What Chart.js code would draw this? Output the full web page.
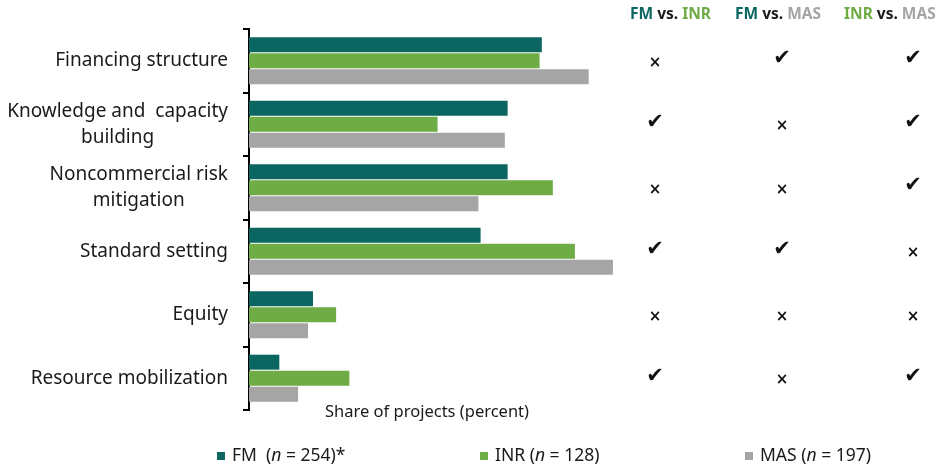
<!DOCTYPE html>
<html>
<head>
<meta charset="utf-8">
<script src="https://cdn.jsdelivr.net/npm/chart.js@4"></script>
<style>
  html, body { margin: 0; padding: 0; background: #fff; }
</style>
</head>
<body>
<canvas id="chart" width="943" height="468"></canvas>
<script>
const categories = [
    ['Financing structure'],
    ['Knowledge and  capacity', 'building'],
    ['Noncommercial risk', 'mitigation'],
    ['Standard setting'],
    ['Equity'],
    ['Resource mobilization']
];
const fmValues  = [53.1, 46.9, 46.9, 42.0, 11.6, 5.5];
const inrValues = [52.7, 34.2, 55.1, 59.1, 15.8, 18.2];
const masValues = [61.6, 46.4, 41.6, 66.0, 10.7, 8.9];

// significance of pairwise differences: true = check, false = cross
const fmVsInr  = [false, true, false, true, false, true];
const fmVsMas  = [true, false, false, true, false, false];
const inrVsMas = [true, true, true, false, false, true];

const seriesNames = ['FM', 'INR', 'MAS'];
const seriesN = ['254)*', '128)', '197)'];
const colors = ['#0b6560', '#6fac46', '#a5a5a5'];

const FONT = '"Noto Sans", "Open Sans", sans-serif';

const overlay = {
    id: 'overlay',
    afterDraw(chart) {
        const ctx = chart.ctx;
        const y = chart.scales.y;
        ctx.save();
        ctx.fillStyle = '#1a1a1a';
        ctx.textBaseline = 'middle';

        // category labels: widest line right-aligned, lines centred on each other
        ctx.font = '19px ' + FONT;
        categories.forEach((lines, i) => {
            const cy = y.getPixelForValue(i);
            const widths = lines.map(l => ctx.measureText(l).width);
            const maxW = Math.max(...widths);
            const right = chart.chartArea.left - 21;
            const lh = 26;
            lines.forEach((l, j) => {
                const ly = cy + (j - (lines.length - 1) / 2) * lh;
                ctx.textAlign = 'center';
                ctx.fillText(l, right - maxW / 2, ly);
            });
        });

        // axis title
        ctx.font = '16.5px ' + FONT;
        ctx.textAlign = 'left';
        ctx.fillText('Share of projects (percent)', 325, 412);

        // comparison table header
        const header = [
            [[seriesNames[0], colors[0]], [' vs. ', '#1a1a1a'], [seriesNames[1], colors[1]]],
            [[seriesNames[0], colors[0]], [' vs. ', '#1a1a1a'], [seriesNames[2], colors[2]]],
            [[seriesNames[1], colors[1]], [' vs. ', '#1a1a1a'], [seriesNames[2], colors[2]]]
        ];
        const headerX = [630, 735, 844];
        ctx.font = 'bold 15.5px ' + FONT;
        header.forEach((parts, k) => {
            let x = headerX[k];
            parts.forEach(([t, c]) => {
                ctx.fillStyle = c;
                ctx.fillText(t, x, 15);
                x += ctx.measureText(t).width;
            });
        });

        // check / cross marks
        const colX = [655, 782, 913];
        [fmVsInr, fmVsMas, inrVsMas].forEach((col, k) => {
            col.forEach((ok, i) => {
                const cy = y.getPixelForValue(i);
                ctx.fillStyle = '#111';
                ctx.textAlign = 'center';
                if (ok) {
                    ctx.font = '21px "DejaVu Sans"';
                    ctx.fillText('\u2714', colX[k], cy - 2);
                } else {
                    ctx.font = 'bold 15px "DejaVu Sans"';
                    ctx.fillText('\u00d7', colX[k], cy + 2);
                }
            });
        });

        // legend
        const legX = [217, 480, 745];
        const legY = 456;
        seriesNames.forEach((name, k) => {
            let x = legX[k];
            ctx.fillStyle = colors[k];
            ctx.fillRect(x, legY - 4, 8, 8);
            x += 15;
            ctx.fillStyle = '#1a1a1a';
            ctx.textAlign = 'left';
            ctx.font = '17.5px ' + FONT;
            const label = name + (k === 0 ? '  (' : ' (');
            ctx.fillText(label, x, legY);
            x += ctx.measureText(label).width;
            ctx.font = 'italic 17.5px ' + FONT;
            ctx.fillText('n', x, legY);
            x += ctx.measureText('n').width;
            ctx.font = '17.5px ' + FONT;
            ctx.fillText(' = ' + seriesN[k], x, legY);
        });
        ctx.restore();
    }
};

new Chart(document.getElementById('chart'), {
    type: 'bar',
    data: {
        labels: categories,
        datasets: seriesNames.map((name, k) => ({
            label: name,
            data: [fmValues, inrValues, masValues][k],
            backgroundColor: colors[k],
            borderWidth: 0,
            categoryPercentage: 0.76,
            barPercentage: 0.93
        }))
    },
    options: {
        indexAxis: 'y',
        responsive: false,
        animation: false,
        layout: { padding: { left: 243, right: 308, top: 29, bottom: 58 } },
        plugins: { legend: { display: false }, tooltip: { enabled: false } },
        scales: {
            x: { display: false, min: 0, max: 70 },
            y: {
                ticks: { display: false },
                grid: { drawOnChartArea: false, tickLength: 6, color: '#000', lineWidth: 2 },
                border: { color: '#000', width: 2 }
            }
        }
    },
    plugins: [overlay]
});
</script>
</body>
</html>
